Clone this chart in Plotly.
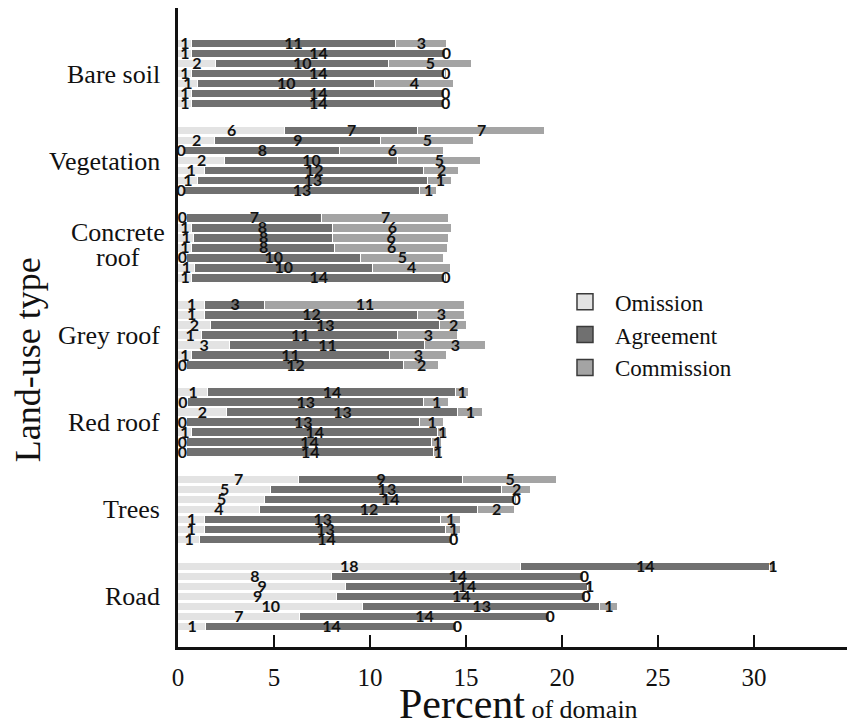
import plotly.graph_objects as go

# ---------------- data ----------------
categories = ["Bare soil", "Vegetation", "Concrete roof", "Grey roof", "Red roof", "Trees", "Road"]

# segment lengths (percent of domain), 7 bars per category, top to bottom
omission = [
    [0.71, 0.71, 1.97, 0.71, 1.03, 0.71, 0.71],
    [5.59, 1.93, 0.33, 2.45, 1.38, 1.03, 0.33],
    [0.45, 0.71, 0.84, 0.71, 0.45, 0.87, 0.75],
    [1.41, 1.41, 1.72, 1.27, 2.72, 0.71, 0.45],
    [1.58, 0.50, 2.54, 0.45, 0.71, 0.45, 0.45],
    [6.32, 4.86, 4.54, 4.26, 1.41, 1.38, 1.15],
    [17.84, 8.02, 8.76, 8.29, 9.66, 6.34, 1.48],
]
agreement = [
    [10.62, 13.23, 9.01, 13.20, 9.22, 13.20, 13.20],
    [6.91, 8.62, 8.13, 9.02, 11.43, 12.01, 12.27],
    [7.05, 7.37, 7.24, 7.49, 9.07, 9.28, 13.16],
    [3.13, 11.09, 11.91, 10.20, 10.14, 10.31, 11.33],
    [12.88, 12.31, 12.06, 12.15, 12.83, 12.80, 12.88],
    [8.53, 12.04, 13.02, 11.37, 12.27, 12.60, 13.17],
    [13.00, 13.11, 12.58, 12.94, 12.31, 13.01, 13.04],
]
commission = [
    [2.70, 0.08, 4.32, 0.08, 4.13, 0.06, 0.06],
    [6.63, 4.87, 5.40, 4.30, 1.83, 1.25, 0.90],
    [6.62, 6.18, 6.04, 5.85, 4.34, 4.05, 0.08],
    [10.39, 2.43, 1.44, 3.13, 3.17, 3.01, 1.81],
    [0.67, 1.31, 1.26, 1.26, 0.49, 0.52, 0.44],
    [4.90, 1.48, 0.10, 1.93, 1.05, 0.75, 0.06],
    [0.30, 0.06, 0.21, 0.06, 0.94, 0.06, 0.06],
]

# printed labels on each segment
omission_lbl = [
    [1, 1, 2, 1, 1, 1, 1],
    [6, 2, 0, 2, 1, 1, 0],
    [0, 1, 1, 1, 0, 1, 1],
    [1, 1, 2, 1, 3, 1, 0],
    [1, 0, 2, 0, 1, 0, 0],
    [7, 5, 5, 4, 1, 1, 1],
    [18, 8, 9, 9, 10, 7, 1],
]
agreement_lbl = [
    [11, 14, 10, 14, 10, 14, 14],
    [7, 9, 8, 10, 12, 13, 13],
    [7, 8, 8, 8, 10, 10, 14],
    [3, 12, 13, 11, 11, 11, 12],
    [14, 13, 13, 13, 14, 14, 14],
    [9, 13, 14, 12, 13, 13, 14],
    [14, 14, 14, 14, 13, 14, 14],
]
commission_lbl = [
    [3, 0, 5, 0, 4, 0, 0],
    [7, 5, 6, 5, 2, 1, 1],
    [7, 6, 6, 6, 5, 4, 0],
    [11, 3, 2, 3, 3, 3, 2],
    [1, 1, 1, 1, 1, 1, 1],
    [5, 2, 0, 2, 1, 1, 0],
    [1, 0, 1, 0, 1, 0, 0],
]

x_ticks = [0, 5, 10, 15, 20, 25, 30, 35]

# ---------------- layout helpers ----------------
GROUP_STEP = 8.7
n_groups = len(categories)
n_bars = 7
centers = [(n_groups - 1 - g) * GROUP_STEP for g in range(n_groups)]

ys, om, ag, co, oml, agl, col = [], [], [], [], [], [], []
for g in range(n_groups):
    for j in range(n_bars):
        ys.append(centers[g] + (n_bars // 2) - j)
        om.append(omission[g][j]); ag.append(agreement[g][j]); co.append(commission[g][j])
        oml.append(str(omission_lbl[g][j])); agl.append(str(agreement_lbl[g][j])); col.append(str(commission_lbl[g][j]))

C_OM, C_AG, C_CO = "#e3e3e3", "#707070", "#a4a4a4"
BW = 0.84
fig = go.Figure()
for vals, colr in [(om, C_OM), (ag, C_AG), (co, C_CO)]:
    fig.add_trace(go.Bar(y=ys, x=vals, orientation="h", width=BW,
                         marker=dict(color=colr, line=dict(color="white", width=1)),
                         showlegend=False, hoverinfo="skip"))

# labels at segment centres
tx, ty, tt = [], [], []
for i in range(len(ys)):
    tx += [om[i] / 2, om[i] + ag[i] / 2, om[i] + ag[i] + co[i] / 2]
    ty += [ys[i] - 0.1] * 3
    tt += [oml[i], agl[i], col[i]]
fig.add_trace(go.Scatter(x=tx, y=ty, text=tt, mode="text", showlegend=False,
                         textfont=dict(family="Lato", size=16, color="#111", weight="bold"),
                         cliponaxis=False, hoverinfo="skip"))

# legend entries
for name, colr in [("Omission", C_OM), ("Agreement", C_AG), ("Commission", C_CO)]:
    fig.add_trace(go.Scatter(x=[None], y=[None], mode="markers", name=name,
                             marker=dict(symbol="square", size=18, color=colr,
                                         line=dict(color="#3a3a3a", width=1.5))))

CAT_FONT = dict(family="Liberation Serif", size=26, color="#111")
annotations = []
for g, name in enumerate(categories):
    if name == "Concrete roof":
        w1, w2 = name.split(" ")
        annotations.append(dict(x=-0.089, xref="paper", y=centers[g] + 1.6, yref="y", text=w1,
                                showarrow=False, xanchor="center", yanchor="middle", font=CAT_FONT))
        annotations.append(dict(x=-0.089, xref="paper", y=centers[g] - 0.9, yref="y", text=w2,
                                showarrow=False, xanchor="center", yanchor="middle", font=CAT_FONT))
    else:
        annotations.append(dict(x=-0.024, xref="paper", y=centers[g], yref="y", text=name,
                                showarrow=False, xanchor="right", yanchor="middle", font=CAT_FONT))
annotations.append(dict(x=-0.222, xref="paper", y=0.45, yref="paper", text="Land-use type",
                        textangle=-90, showarrow=False, xanchor="center", yanchor="middle",
                        font=dict(family="Liberation Serif", size=36, color="#111")))
annotations.append(dict(x=0.507, xref="paper", y=-0.089, yref="paper",
                        text="Percent<span style='font-size:26px'> of domain</span>",
                        showarrow=False, xanchor="center", yanchor="middle",
                        font=dict(family="Liberation Serif", size=42, color="#111")))

fig.update_layout(
    width=847, height=717,
    margin=dict(l=170, r=5, t=0, b=78),
    barmode="stack", bargap=0,
    plot_bgcolor="white", paper_bgcolor="white",
    annotations=annotations,
    legend=dict(x=0.561, y=0.574, xanchor="left", yanchor="top", traceorder="normal",
                font=dict(family="Liberation Serif", size=23, color="#111"),
                bgcolor="rgba(0,0,0,0)", tracegroupgap=0, itemwidth=50),
    xaxis=dict(range=[0, 35], tickvals=x_ticks, ticks="inside", ticklen=12, tickwidth=2,
               tickcolor="#111", showline=True, linewidth=3, linecolor="#111",
               showgrid=False, zeroline=False, ticklabelstandoff=6,
               tickfont=dict(family="Liberation Serif", size=25, color="#111")),
    yaxis=dict(range=[-5, 58.8], showline=True, linewidth=3, linecolor="#111",
               showticklabels=False, ticks="", showgrid=False, zeroline=False),
)

fig.write_html("out.html")
